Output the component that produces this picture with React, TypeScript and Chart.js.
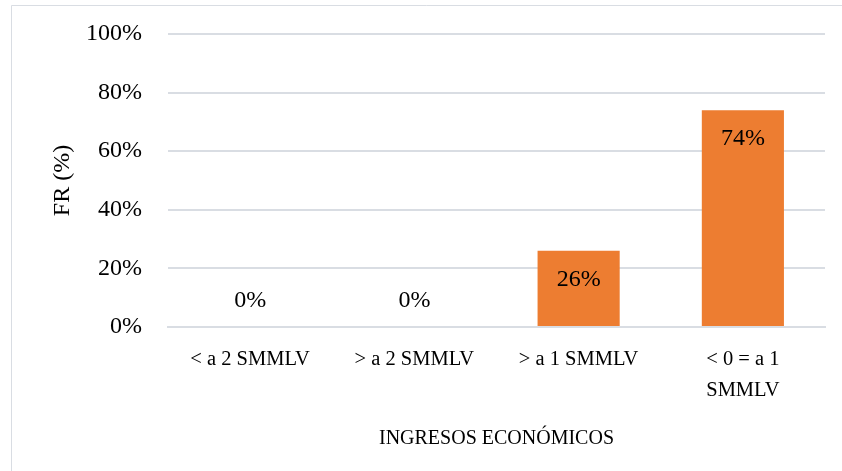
import React, { useEffect, useRef } from "react";
import { Chart, registerables } from "chart.js";

Chart.register(...registerables);

const categories: (string | string[])[] = [
  "< a 2 SMMLV",
  "> a 2 SMMLV",
  "> a 1 SMMLV",
  ["< 0 = a 1", "SMMLV"],
];
const values = [0, 0, 26, 74];
const yTicks = [0, 20, 40, 60, 80, 100];

const FONT = "'Liberation Serif', 'Times New Roman', serif";

const labelPlugin = {
  id: "barLabels",
  afterDatasetsDraw(chart: any) {
    const ctx = chart.ctx;
    const meta = chart.getDatasetMeta(0);
    ctx.save();
    ctx.font = `24px ${FONT}`;
    ctx.fillStyle = "#000";
    ctx.textAlign = "center";
    ctx.textBaseline = "middle";
    meta.data.forEach((bar: any, i: number) => {
      const v = values[i];
      const y = v > 0 ? bar.y + 29 : bar.y - 26;
      ctx.fillText(`${v}%`, bar.x, y);
    });
    ctx.restore();
  },
};

const borderPlugin = {
  id: "frame",
  beforeDraw(chart: any) {
    const ctx = chart.ctx;
    ctx.save();
    ctx.fillStyle = "#fff";
    ctx.fillRect(0, 0, chart.width, chart.height);
    ctx.strokeStyle = "#D9DDE3";
    ctx.lineWidth = 1;
    ctx.beginPath();
    ctx.moveTo(11.5, chart.height);
    ctx.lineTo(11.5, 5.5);
    ctx.lineTo(chart.width, 5.5);
    ctx.stroke();
    ctx.restore();
  },
};

export default function App() {
  const ref = useRef<HTMLCanvasElement>(null);
  useEffect(() => {
    if (!ref.current) return;
    const chart = new Chart(ref.current, {
      type: "bar",
      data: {
        labels: categories,
        datasets: [
          {
            data: values,
            backgroundColor: "#ED7D31",
            barPercentage: 0.5,
            categoryPercentage: 1,
          },
        ],
      },
      options: {
        animation: false,
        responsive: false,
        layout: { padding: { left: 0, right: 17, top: 34, bottom: 0 } },
        plugins: { legend: { display: false }, tooltip: { enabled: false } },
        scales: {
          x: {
            grid: { display: false },
            border: { color: "#D9DDE3", width: 2 },
            ticks: {
              color: "#000",
              font: { family: FONT, size: 20.5, lineHeight: 1.5 },
              padding: 9,
              maxRotation: 0,
              autoSkip: false,
            },
            title: {
              display: true,
              text: "INGRESOS ECONÓMICOS",
              color: "#000",
              font: { family: FONT, size: 20, lineHeight: 1.2 },
              padding: { top: 23, bottom: 20 },
            },
            afterFit(axis: any) {
              axis.height = 144;
              axis.paddingLeft = 0;
              axis.paddingRight = 0;
            },
          },
          y: {
            min: 0,
            max: 100,
            afterBuildTicks(axis: any) {
              axis.ticks = yTicks.map((v) => ({ value: v }));
            },
            grid: { color: "#D9DDE3", lineWidth: 2, drawTicks: false },
            border: { display: false },
            ticks: {
              color: "#000",
              font: { family: FONT, size: 24 },
              padding: 26,
              callback: (v: any) => `${v}%`,
            },
            title: {
              display: true,
              text: "FR (%)",
              color: "#000",
              font: { family: FONT, size: 24, lineHeight: 1.2 },
              padding: { top: 48, bottom: 0 },
            },
            afterFit(axis: any) {
              axis.width = 168;
              axis.paddingTop = 0;
              axis.paddingBottom = 0;
            },
          },
        },
      },
      plugins: [borderPlugin, labelPlugin],
    });
    return () => chart.destroy();
  }, []);
  return (
    <div style={{ position: "fixed", left: 0, top: 0, width: 842, height: 471, background: "#fff" }}>
      <canvas ref={ref} width={842} height={471} style={{ display: "block" }} />
    </div>
  );
}
